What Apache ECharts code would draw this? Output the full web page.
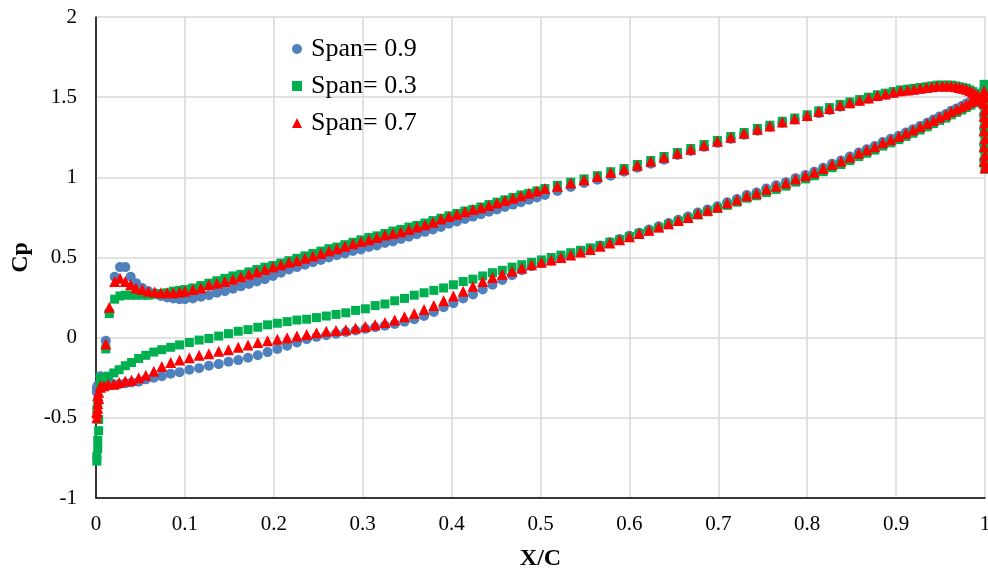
<!DOCTYPE html>
<html>
<head>
<meta charset="utf-8">
<title>Cp distribution</title>
<script src="https://cdn.jsdelivr.net/npm/echarts@6/dist/echarts.min.js"></script>
<style>
  html, body { margin: 0; padding: 0; background: #ffffff; }
  #chart { width: 988px; height: 572px; }
</style>
</head>
<body>
<div id="chart"></div>
<script>
// Upper branch (higher Cp), leading edge to trailing edge
const xTop = [0.001, 0.005, 0.011, 0.015, 0.021, 0.027, 0.033, 0.039, 0.045, 0.052, 0.059, 0.066, 0.073, 0.08, 0.087, 0.094, 0.1,
  0.109, 0.118, 0.127, 0.136, 0.145, 0.154, 0.163, 0.172, 0.181, 0.19, 0.199, 0.208, 0.217, 0.226, 0.235, 0.244, 0.253, 0.262, 0.271, 0.28,
  0.289, 0.298, 0.307, 0.316, 0.325, 0.334, 0.343, 0.352, 0.361, 0.37, 0.379, 0.388, 0.397, 0.406, 0.415, 0.424, 0.433, 0.442, 0.451, 0.46,
  0.469, 0.478, 0.487, 0.496, 0.505,
  0.519, 0.534, 0.549, 0.564, 0.579, 0.594, 0.609, 0.624, 0.639, 0.654, 0.669, 0.684, 0.699, 0.714, 0.729, 0.744, 0.758, 0.772, 0.786, 0.8,
  0.813, 0.825, 0.837, 0.848, 0.859, 0.869, 0.879, 0.888, 0.897, 0.905, 0.913, 0.92, 0.927, 0.934, 0.94, 0.946, 0.952, 0.957, 0.962, 0.967,
  0.971, 0.975, 0.979, 0.983, 0.986, 0.989, 0.992, 0.995, 0.998];

const cpTop09 = [-0.31, -0.24, -0.02, 0.16, 0.38, 0.44, 0.44, 0.38, 0.34, 0.31, 0.29, 0.275, 0.26, 0.25, 0.245, 0.24, 0.24,
  0.245, 0.255, 0.265, 0.28, 0.29, 0.305, 0.32, 0.335, 0.35, 0.365, 0.385, 0.405, 0.425, 0.44, 0.455, 0.47, 0.485, 0.50, 0.515, 0.525,
  0.54, 0.55, 0.565, 0.575, 0.59, 0.60, 0.615, 0.63, 0.645, 0.66, 0.675, 0.69, 0.71, 0.725, 0.74, 0.755, 0.77, 0.785, 0.80, 0.815,
  0.83, 0.845, 0.86, 0.875, 0.89,
  0.915, 0.94, 0.965, 0.985, 1.01, 1.035, 1.06, 1.085, 1.11, 1.14, 1.165, 1.19, 1.215, 1.24, 1.265, 1.29, 1.315, 1.34, 1.36, 1.38,
  1.40, 1.42, 1.44, 1.46, 1.475, 1.49, 1.505, 1.515, 1.525, 1.535, 1.54, 1.545, 1.55, 1.555, 1.56, 1.565, 1.565, 1.565, 1.565, 1.56,
  1.555, 1.55, 1.545, 1.535, 1.525, 1.515, 1.505, 1.485, 1.465];

const cpTop03 = [-0.45, -0.25, -0.07, 0.15, 0.24, 0.26, 0.265, 0.265, 0.265, 0.265, 0.265, 0.27, 0.275, 0.28, 0.29, 0.295, 0.30,
  0.31, 0.325, 0.34, 0.355, 0.37, 0.385, 0.395, 0.41, 0.425, 0.44, 0.45, 0.465, 0.48, 0.495, 0.51, 0.525, 0.54, 0.555, 0.565, 0.58,
  0.595, 0.61, 0.625, 0.635, 0.65, 0.665, 0.675, 0.69, 0.70, 0.715, 0.73, 0.745, 0.76, 0.775, 0.79, 0.80, 0.815, 0.83, 0.845, 0.86,
  0.875, 0.89, 0.90, 0.915, 0.93,
  0.95, 0.97, 0.99, 1.01, 1.035, 1.055, 1.08, 1.105, 1.13, 1.155, 1.18, 1.205, 1.23, 1.255, 1.28, 1.305, 1.325, 1.35, 1.37, 1.39,
  1.415, 1.435, 1.455, 1.47, 1.485, 1.50, 1.515, 1.525, 1.535, 1.545, 1.55, 1.555, 1.56, 1.565, 1.57, 1.575, 1.575, 1.575, 1.575, 1.57,
  1.565, 1.56, 1.555, 1.545, 1.535, 1.525, 1.515, 1.495, 1.475];

const cpTop07 = [-0.46, -0.30, -0.04, 0.19, 0.35, 0.37, 0.35, 0.33, 0.31, 0.30, 0.29, 0.285, 0.28, 0.28, 0.28, 0.285, 0.29,
  0.30, 0.31, 0.33, 0.34, 0.35, 0.365, 0.38, 0.395, 0.41, 0.425, 0.44, 0.455, 0.47, 0.48, 0.495, 0.51, 0.525, 0.54, 0.555, 0.57,
  0.585, 0.60, 0.61, 0.625, 0.64, 0.65, 0.66, 0.675, 0.69, 0.705, 0.72, 0.74, 0.755, 0.77, 0.785, 0.80, 0.81, 0.825, 0.84, 0.855,
  0.87, 0.885, 0.90, 0.915, 0.93,
  0.945, 0.965, 0.985, 1.005, 1.03, 1.05, 1.075, 1.10, 1.125, 1.15, 1.175, 1.20, 1.225, 1.25, 1.275, 1.30, 1.32, 1.345, 1.365, 1.385,
  1.41, 1.43, 1.45, 1.465, 1.48, 1.495, 1.51, 1.52, 1.53, 1.54, 1.545, 1.55, 1.555, 1.56, 1.565, 1.57, 1.57, 1.57, 1.57, 1.565,
  1.56, 1.555, 1.55, 1.54, 1.53, 1.52, 1.51, 1.49, 1.47];

// Lower branch (lower Cp), leading edge to trailing edge
const xBot = [0.002, 0.005, 0.009, 0.014, 0.02, 0.026, 0.033, 0.04, 0.048, 0.056, 0.065, 0.074, 0.084, 0.094,
  0.105, 0.116, 0.127, 0.138, 0.149, 0.16, 0.171, 0.182, 0.193, 0.204, 0.215, 0.226, 0.237, 0.248, 0.259, 0.27, 0.281, 0.292, 0.303, 0.314,
  0.325, 0.336, 0.347, 0.358, 0.369, 0.38, 0.391, 0.402, 0.413, 0.424, 0.435, 0.446, 0.457, 0.468, 0.479, 0.49, 0.501, 0.512, 0.523, 0.534,
  0.545, 0.556, 0.567, 0.578, 0.589, 0.6, 0.611, 0.622, 0.633, 0.644, 0.655, 0.666, 0.677, 0.688, 0.699, 0.71, 0.721, 0.732, 0.743, 0.754,
  0.765, 0.776, 0.787, 0.798,
  0.808, 0.818, 0.828, 0.838, 0.848, 0.858, 0.867, 0.876, 0.885, 0.894, 0.903, 0.911, 0.919, 0.927, 0.935, 0.942, 0.949, 0.956, 0.962,
  0.968, 0.974, 0.979, 0.984, 0.988, 0.992, 0.996, 0.999];

const cpBot09 = [-0.30, -0.29, -0.29, -0.29, -0.29, -0.29, -0.285, -0.28, -0.275, -0.26, -0.25, -0.24, -0.225, -0.215,
  -0.20, -0.19, -0.175, -0.165, -0.15, -0.14, -0.125, -0.11, -0.09, -0.07, -0.05, -0.03, -0.01, 0.005, 0.015, 0.025, 0.035, 0.045, 0.055, 0.065,
  0.075, 0.085, 0.10, 0.115, 0.135, 0.16, 0.19, 0.215, 0.245, 0.27, 0.30, 0.33, 0.36, 0.39, 0.42, 0.445, 0.465, 0.48, 0.50, 0.515,
  0.535, 0.555, 0.575, 0.595, 0.615, 0.635, 0.655, 0.675, 0.695, 0.715, 0.735, 0.755, 0.78, 0.80, 0.82, 0.845, 0.865, 0.89, 0.905, 0.93,
  0.95, 0.97, 0.995, 1.015,
  1.035, 1.06, 1.085, 1.105, 1.13, 1.155, 1.175, 1.195, 1.22, 1.24, 1.26, 1.28, 1.30, 1.32, 1.34, 1.36, 1.38, 1.395, 1.415,
  1.43, 1.445, 1.46, 1.475, 1.485, 1.495, 1.505, 1.515];

const cpBot03 = [-0.40, -0.29, -0.26, -0.24, -0.22, -0.20, -0.175, -0.155, -0.13, -0.11, -0.09, -0.075, -0.06, -0.045,
  -0.03, -0.015, -0.005, 0.01, 0.025, 0.04, 0.05, 0.065, 0.08, 0.09, 0.10, 0.11, 0.115, 0.125, 0.135, 0.145, 0.155, 0.17, 0.18, 0.20,
  0.21, 0.23, 0.245, 0.265, 0.28, 0.295, 0.31, 0.33, 0.35, 0.365, 0.385, 0.405, 0.42, 0.44, 0.455, 0.47, 0.485, 0.50, 0.515, 0.53,
  0.545, 0.56, 0.575, 0.595, 0.61, 0.63, 0.65, 0.665, 0.685, 0.705, 0.725, 0.745, 0.765, 0.785, 0.805, 0.825, 0.845, 0.87, 0.885, 0.905,
  0.925, 0.945, 0.97, 0.99,
  1.01, 1.035, 1.06, 1.08, 1.105, 1.13, 1.15, 1.17, 1.195, 1.215, 1.235, 1.255, 1.275, 1.295, 1.315, 1.335, 1.355, 1.37, 1.39,
  1.405, 1.42, 1.435, 1.45, 1.465, 1.475, 1.49, 1.50];

const cpBot07 = [-0.36, -0.31, -0.30, -0.29, -0.29, -0.28, -0.27, -0.265, -0.25, -0.235, -0.21, -0.18, -0.155, -0.14,
  -0.125, -0.11, -0.10, -0.085, -0.075, -0.06, -0.045, -0.03, -0.02, -0.01, 0.0, 0.01, 0.02, 0.03, 0.04, 0.045, 0.05, 0.06, 0.07, 0.08,
  0.095, 0.11, 0.13, 0.15, 0.175, 0.20, 0.23, 0.26, 0.29, 0.32, 0.35, 0.375, 0.395, 0.415, 0.435, 0.455, 0.47, 0.485, 0.50, 0.515,
  0.535, 0.55, 0.57, 0.59, 0.61, 0.63, 0.65, 0.67, 0.69, 0.71, 0.73, 0.75, 0.775, 0.795, 0.815, 0.84, 0.86, 0.885, 0.90, 0.925,
  0.945, 0.965, 0.99, 1.01,
  1.03, 1.055, 1.08, 1.10, 1.125, 1.15, 1.17, 1.19, 1.215, 1.235, 1.255, 1.275, 1.295, 1.315, 1.335, 1.355, 1.375, 1.39, 1.41,
  1.425, 1.44, 1.455, 1.47, 1.48, 1.49, 1.50, 1.51];

// Points clustered on the leading edge
const xNose = [0.001, 0.001, 0.002, 0.002, 0.003, 0.003];
const cpNose09 = [-0.34, -0.33, -0.32, -0.31, -0.30, -0.29];
const cpNose03 = [-0.77, -0.74, -0.69, -0.64, -0.58, -0.51];
const cpNose07 = [-0.50, -0.47, -0.44, -0.41, -0.38, -0.34];

// Points clustered on the blunt trailing edge
const xTail = [1, 0.999, 1, 0.999, 1, 0.999, 1, 0.999, 1, 0.999, 1, 0.999];
const cpTail09 = [1.07, 1.11, 1.16, 1.21, 1.26, 1.31, 1.35, 1.39, 1.43, 1.47, 1.51, 1.55];
const cpTail03 = [1.05, 1.09, 1.13, 1.18, 1.23, 1.28, 1.33, 1.38, 1.43, 1.48, 1.53, 1.58];
const cpTail07 = [1.06, 1.10, 1.14, 1.19, 1.24, 1.29, 1.34, 1.38, 1.42, 1.46, 1.50, 1.54];

const seriesNames = ['Span= 0.9', 'Span= 0.3', 'Span= 0.7'];
const seriesColors = ['#4f81bd', '#00b050', '#ff0000'];

const pairs = (xs, ys) => xs.map((x, i) => [x, ys[i]]);
const collect = (top, bot, nose, tail) =>
  pairs(xTop, top).concat(pairs(xBot, bot), pairs(xNose, nose), pairs(xTail, tail));

const FONT = '"Liberation Serif", "Times New Roman", serif';

const chart = echarts.init(document.getElementById('chart'), null, { renderer: 'canvas' });
chart.setOption({
  animation: false,
  backgroundColor: '#ffffff',
  grid: { left: 96, right: 3, top: 17, bottom: 74, containLabel: false, outerBoundsMode: 'none' },
  legend: {
    orient: 'vertical',
    left: 287,
    top: 31,
    itemWidth: 10,
    itemHeight: 10,
    itemGap: 11,
    textStyle: { fontFamily: FONT, fontSize: 26, color: '#000', lineHeight: 26, padding: [0, 0, 0, 4] },
    data: [
      { name: seriesNames[0], icon: 'circle' },
      { name: seriesNames[1], icon: 'rect' },
      { name: seriesNames[2], icon: 'triangle' }
    ]
  },
  xAxis: {
    type: 'value',
    min: 0, max: 1, interval: 0.1,
    name: 'X/C',
    nameLocation: 'middle',
    nameGap: 49,
    nameTextStyle: { fontFamily: FONT, fontSize: 24, fontWeight: 'bold', color: '#000' },
    axisLine: { show: true, onZero: false, lineStyle: { color: '#000', width: 1.5 } },
    axisTick: { show: false },
    axisLabel: { fontFamily: FONT, fontSize: 21, color: '#000', margin: 16 },
    splitLine: { show: true, lineStyle: { color: '#d9d9d9', width: 1.5 } }
  },
  yAxis: {
    type: 'value',
    min: -1, max: 2, interval: 0.5,
    name: 'Cp',
    nameLocation: 'middle',
    nameGap: 62,
    nameRotate: 90,
    nameTextStyle: { fontFamily: FONT, fontSize: 24, fontWeight: 'bold', color: '#000' },
    axisLine: { show: true, onZero: false, lineStyle: { color: '#000', width: 1.5 } },
    axisTick: { show: false },
    axisLabel: { fontFamily: FONT, fontSize: 21, color: '#000', margin: 19 },
    splitLine: { show: true, lineStyle: { color: '#d9d9d9', width: 1.5 } }
  },
  series: [
    {
      name: seriesNames[0], type: 'scatter', symbol: 'circle', symbolSize: 10, clip: false,
      itemStyle: { color: seriesColors[0], opacity: 1 },
      data: collect(cpTop09, cpBot09, cpNose09, cpTail09)
    },
    {
      name: seriesNames[1], type: 'scatter', symbol: 'rect', symbolSize: 9, clip: false,
      itemStyle: { color: seriesColors[1], opacity: 1 },
      data: collect(cpTop03, cpBot03, cpNose03, cpTail03)
    },
    {
      name: seriesNames[2], type: 'scatter', symbol: 'triangle', symbolSize: 11, clip: false,
      itemStyle: { color: seriesColors[2], opacity: 1 },
      data: collect(cpTop07, cpBot07, cpNose07, cpTail07)
    }
  ]
});
</script>
</body>
</html>
